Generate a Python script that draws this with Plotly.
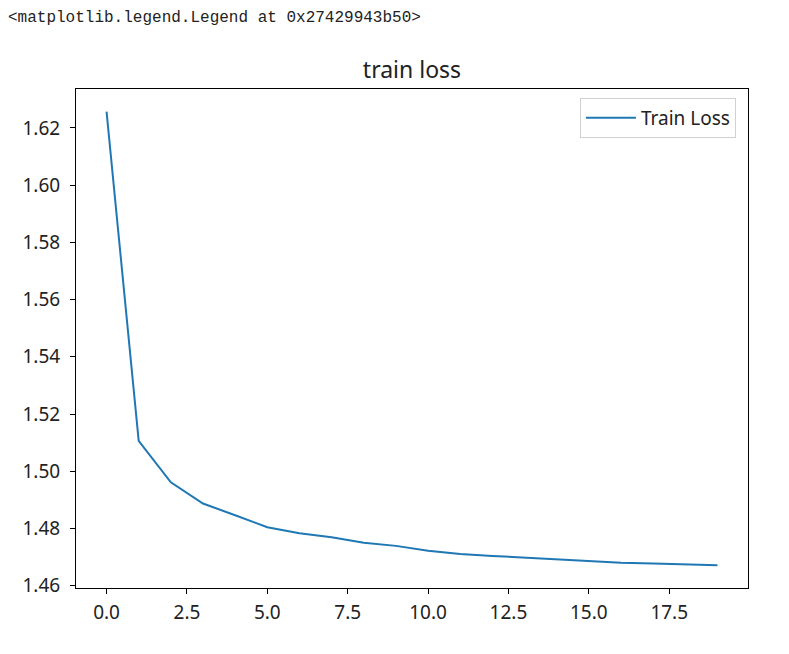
import plotly.graph_objects as go

epochs = list(range(20))
train_loss = [1.6257, 1.5106, 1.4961, 1.4887, 1.4846, 1.4804, 1.4783, 1.4769,
              1.4750, 1.4739, 1.4722, 1.4711, 1.4704, 1.4698, 1.4693, 1.4687,
              1.4680, 1.4677, 1.4675, 1.4671]
x_ticks = [0, 2.5, 5, 7.5, 10, 12.5, 15, 17.5]
x_tick_labels = ["0.0", "2.5", "5.0", "7.5", "10.0", "12.5", "15.0", "17.5"]
y_ticks = [1.46, 1.48, 1.50, 1.52, 1.54, 1.56, 1.58, 1.60, 1.62]
y_tick_labels = ["1.46", "1.48", "1.50", "1.52", "1.54", "1.56", "1.58", "1.60", "1.62"]

fig = go.Figure()
fig.add_trace(go.Scatter(x=epochs, y=train_loss, mode="lines", name="Train Loss",
                         line=dict(color="#1f77b4", width=2)))

axis_style = dict(showline=True, mirror=True, linecolor="black", linewidth=1,
                  ticks="outside", ticklen=5, tickcolor="black", showgrid=False,
                  zeroline=False, tickfont=dict(family="Noto Sans", size=19, color="#222"))

# matplotlib-style 5% margins around the data
x_pad = (max(epochs) - min(epochs)) * 0.05
y_pad = (max(train_loss) - min(train_loss)) * 0.05
fig.update_xaxes(range=[min(epochs) - x_pad, max(epochs) + x_pad],
                 tickvals=x_ticks, ticktext=x_tick_labels, ticklabelstandoff=2, **axis_style)
fig.update_yaxes(range=[min(train_loss) - y_pad, max(train_loss) + y_pad],
                 tickvals=y_ticks, ticktext=y_tick_labels, ticklabelstandoff=6, **axis_style)

fig.update_layout(
    width=789, height=654,
    margin=dict(l=67.5, r=49, t=81, b=74),
    paper_bgcolor="white", plot_bgcolor="white",
    title=dict(text="train loss", x=0.5, xref="paper", y=0.905, yanchor="middle",
               font=dict(family="Noto Sans", size=23, color="#222")),
    legend=dict(x=0.982, y=0.982, xanchor="right", yanchor="top", itemwidth=50,
                bordercolor="#d0d0d0", borderwidth=1, bgcolor="white",
                font=dict(family="Noto Sans", size=19, color="#222")),
    showlegend=True,
)

fig.add_annotation(text="<matplotlib.legend.Legend at 0x27429943b50>",
                   xref="paper", yref="paper", x=-0.1048, y=1.142,
                   xanchor="left", yanchor="middle", showarrow=False,
                   font=dict(family="Liberation Mono", size=16, color="#222"))

fig.write_html("out.html")
